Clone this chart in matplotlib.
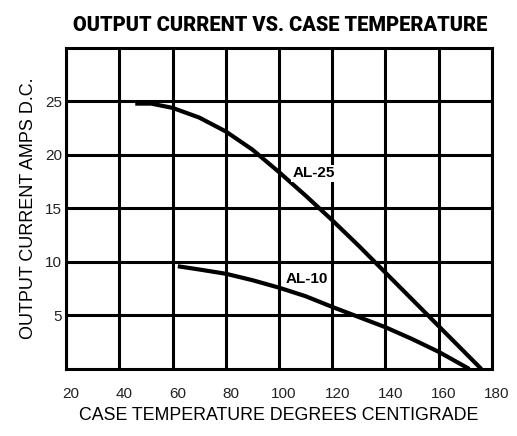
import numpy as np
import matplotlib
matplotlib.use("Agg")
import matplotlib.pyplot as plt
import matplotlib.transforms as mtransforms

# values
al25_temp = [46, 52, 60, 70, 80, 90, 100, 110, 120, 130, 140, 150, 160, 170, 176]
al25_amps = [24.8, 24.8, 24.4, 23.5, 22.2, 20.5, 18.4, 16.2, 13.9, 11.5, 9.0, 6.5, 4.0, 1.5, 0.0]

al10_temp = [62, 70, 80, 90, 100, 110, 120, 130, 140, 150, 160, 171.5]
al10_amps = [9.6, 9.3, 8.9, 8.3, 7.6, 6.8, 5.8, 4.85, 3.9, 2.8, 1.6, 0.0]

x_ticks = [20, 40, 60, 80, 100, 120, 140, 160, 180]
y_ticks = [5, 10, 15, 20, 25]

plt.rcParams['font.family'] = ['Liberation Sans', 'DejaVu Sans']

fig = plt.figure(figsize=(5.17, 4.36), dpi=100)
ax = fig.add_axes([0.1277, 0.1537, 0.8239, 0.7363])

ax.set_xlim(20, 180)
ax.set_ylim(0, 30)
ax.set_xticks(x_ticks)
ax.set_yticks(y_ticks)
ax.set_xticklabels([str(t) for t in x_ticks], fontsize=11, color='#222222')
ax.set_yticklabels([str(t) for t in y_ticks], fontsize=11, color='#222222')
ax.tick_params(length=0)
ax.tick_params(axis='x', pad=13)
ax.tick_params(axis='y', pad=3)

# nudge x labels a bit right as in the scan
offset = mtransforms.ScaledTranslation(5 / 100, 0, fig.dpi_scale_trans)
for lbl in ax.get_xticklabels():
    lbl.set_transform(lbl.get_transform() + offset)

ax.grid(True, color='black', linewidth=2.2)
for s in ax.spines.values():
    s.set_linewidth(2.2)

ax.plot(al25_temp, al25_amps, color='black', linewidth=3, solid_capstyle='butt', zorder=3)
ax.plot(al10_temp, al10_amps, color='black', linewidth=3, solid_capstyle='butt', zorder=3)

ax.text(113, 18.3, "AL-25", fontsize=11, fontweight='bold', ha='center', va='center',
        bbox=dict(facecolor='white', edgecolor='none', pad=1), zorder=4)
ax.text(110.4, 8.4, "AL-10", fontsize=11, fontweight='bold', ha='center', va='center',
        bbox=dict(facecolor='white', edgecolor='none', pad=1), zorder=4)

ax.set_xlabel("CASE TEMPERATURE DEGREES CENTIGRADE", fontsize=12.8, labelpad=4)
ax.set_ylabel("OUTPUT CURRENT AMPS D.C.", fontsize=13, labelpad=6)

fig.text(0.542, 0.9415, "OUTPUT CURRENT VS. CASE TEMPERATURE", fontsize=14.4,
         fontweight='black', family=['Roboto', 'DejaVu Sans'], ha='center', va='center')

fig.savefig("out.png", dpi=100)
